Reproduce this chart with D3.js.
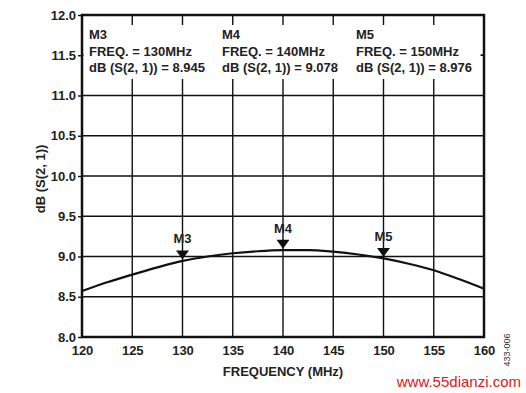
<!DOCTYPE html>
<html><head><meta charset="utf-8">
<script src="https://cdn.jsdelivr.net/npm/d3@7"></script>
<style>body{margin:0;background:#fff}svg{display:block}text{font-family:"Liberation Sans",Arial,sans-serif}</style>
</head><body>
<svg id="c" width="526" height="393"></svg>
<script>
const freq = [120,122.5,125,127.5,130,132.5,135,137.5,140,142.5,145,147.5,150,152.5,155,157.5,160];
const gain = [8.57,8.68,8.775,8.865,8.945,9.0,9.04,9.065,9.078,9.08,9.06,9.025,8.976,8.91,8.83,8.72,8.60];
const xTicks = [120,125,130,135,140,145,150,155,160];
const yTicks = [8.0,8.5,9.0,9.5,10.0,10.5,11.0,11.5,12.0];
const markerNames = ["M3","M4","M5"];
const markerFreq = [130,140,150];
const markerGain = [8.945,9.078,8.976];

const svg = d3.select("#c");
const L=82,R=484,T=15,B=337;
const FS=13;
const x = d3.scaleLinear().domain([120,160]).range([L,R]);
const y = d3.scaleLinear().domain([8,12]).range([B,T]);

// grid
svg.append("g").selectAll("line").data(xTicks.slice(1,-1)).join("line")
  .attr("x1",d=>x(d)).attr("x2",d=>x(d)).attr("y1",T).attr("y2",B)
  .attr("stroke","#111").attr("stroke-width",1.4);
svg.append("g").selectAll("line").data(yTicks.slice(1,-1)).join("line")
  .attr("x1",L).attr("x2",R).attr("y1",d=>y(d)).attr("y2",d=>y(d))
  .attr("stroke","#111").attr("stroke-width",1.4);

// white box behind annotations
svg.append("rect").attr("x",L+1.5).attr("y",25).attr("width",R-L-5).attr("height",54).attr("fill","#fff");

// axes
const yAxis = d3.axisLeft(y).tickValues(yTicks).tickFormat(d3.format(".1f")).tickSize(4).tickPadding(2);
const gy = svg.append("g").attr("transform",`translate(${L},0)`).call(yAxis);
gy.select(".domain").remove();
gy.selectAll("line").attr("stroke","#111").attr("stroke-width",1.4);
gy.selectAll("text").attr("font-size",FS).attr("font-weight","bold").attr("fill","#222");

const xAxis = d3.axisBottom(x).tickValues(xTicks).tickSize(0).tickPadding(9);
const gx = svg.append("g").attr("transform",`translate(0,${B})`).call(xAxis);
gx.select(".domain").remove();
gx.selectAll("text").attr("font-size",FS).attr("font-weight","bold").attr("fill","#222");

// right tick at 11.5
svg.append("line").attr("x1",R-3).attr("x2",R).attr("y1",y(11.5)).attr("y2",y(11.5)).attr("stroke","#111").attr("stroke-width",1.4);

// frame
svg.append("rect").attr("x",L).attr("y",T).attr("width",R-L).attr("height",B-T)
  .attr("fill","none").attr("stroke","#111").attr("stroke-width",2.5);

// curve
const line = d3.line().x((d,i)=>x(freq[i])).y(d=>y(d)).curve(d3.curveMonotoneX);
svg.append("path").attr("d",line(gain)).attr("fill","none").attr("stroke","#111").attr("stroke-width",2.2);

// markers
const mk = svg.append("g");
markerFreq.forEach((f,i)=>{
  const px=x(f), py=y(markerGain[i])-1.5;
  mk.append("path").attr("d",`M${px-6.5},${py-9}L${px+6.5},${py-9}L${px},${py}Z`).attr("fill","#111");
  mk.append("text").attr("x",px).attr("y",py-16).attr("text-anchor","middle")
    .attr("font-size",FS).attr("font-weight","bold").attr("fill","#222").text(markerNames[i]);
});

// annotations
const annX=[89,222,356];
markerNames.forEach((m,i)=>{
  const g=svg.append("g").attr("font-size",FS).attr("font-weight","bold").attr("fill","#222");
  g.append("text").attr("x",annX[i]).attr("y",39).text(m);
  g.append("text").attr("x",annX[i]).attr("y",55.5).text(`FREQ. = ${markerFreq[i]}MHz`);
  g.append("text").attr("x",annX[i]).attr("y",71.5).text(`dB (S(2, 1)) = ${d3.format(".3f")(markerGain[i])}`);
});

// titles
svg.append("text").attr("x",(L+R)/2).attr("y",376).attr("text-anchor","middle")
  .attr("font-size",FS).attr("font-weight","bold").attr("fill","#222").text("FREQUENCY (MHz)");
svg.append("text").attr("transform","translate(45,179) rotate(-90)").attr("text-anchor","middle")
  .attr("font-size",FS).attr("font-weight","bold").attr("fill","#222").text("dB (S(2, 1))");
svg.append("text").attr("transform","translate(510,350) rotate(-90)").attr("text-anchor","middle")
  .attr("font-size",9).attr("fill","#333").text("433-006");
svg.append("text").attr("x",521).attr("y",387).attr("text-anchor","end")
  .attr("font-size",15).attr("fill","#d42020").text("www.55dianzi.com");
</script>
</body></html>
